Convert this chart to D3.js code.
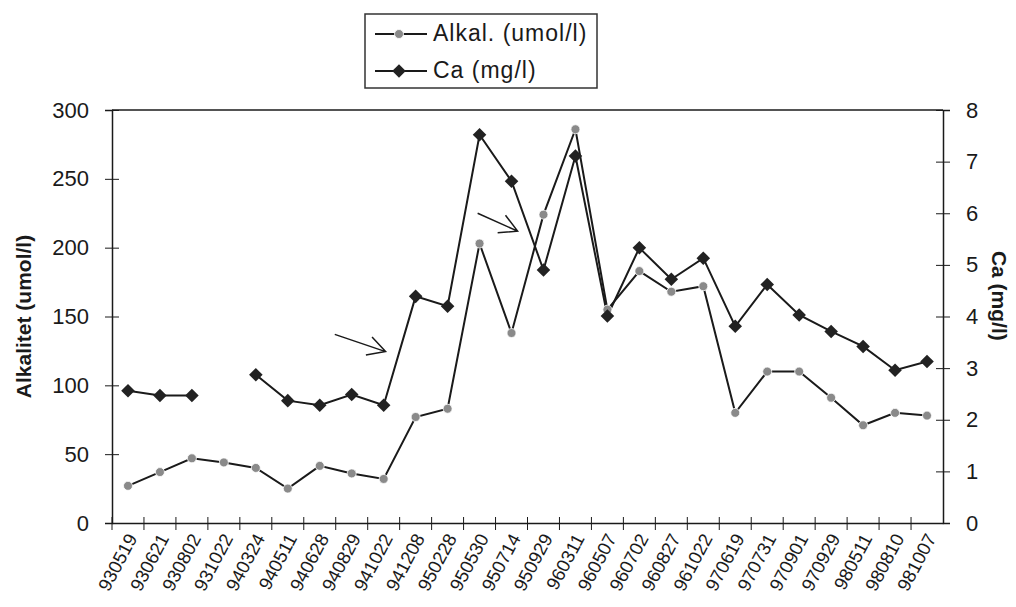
<!DOCTYPE html>
<html>
<head>
<meta charset="utf-8">
<script src="https://cdn.jsdelivr.net/npm/d3@7"></script>
<style>
  body { margin: 0; background: #fff; }
  svg { display: block; font-family: Arial, "Liberation Sans", sans-serif; }
</style>
</head>
<body>
<svg id="chart"></svg>
<script>
// sampling dates (yymmdd)
const dates = ["930519", "930621", "930802", "931022", "940324", "940511", "940628",
  "940829", "941022", "941208", "950228", "950530", "950714", "950929", "960311",
  "960507", "960702", "960827", "961022", "970619", "970731", "970901", "970929",
  "980511", "980810", "981007"];

// Alkalinity, umol/l (left axis)
const alkal = [27, 37, 47, 44, 40, 25, 41.5, 36, 32, 77, 83, 203, 138, 224, 286,
  155, 183, 168, 172, 80, 110, 110, 91, 71, 80, 78];

// Calcium, mg/l (right axis) - no sample on 931022
const ca = [2.56, 2.47, 2.47, null, 2.87, 2.37, 2.28, 2.49, 2.28, 4.39, 4.2, 7.52,
  6.62, 4.9, 7.11, 4.01, 5.33, 4.72, 5.13, 3.81, 4.62, 4.03, 3.71, 3.42, 2.96, 3.13];

const leftTicks = [0, 50, 100, 150, 200, 250, 300];
const rightTicks = [0, 1, 2, 3, 4, 5, 6, 7, 8];

// hand drawn arrows: [category index, alkal value] for tail and head
const arrows = [
  { from: [6.47, 137], to: [8.06, 124.5] },
  { from: [10.94, 225], to: [12.19, 212] }
];

const width = 1016, height = 607;
const margin = { top: 110, right: 73, bottom: 84, left: 112 };
const innerW = width - margin.left - margin.right;
const innerH = height - margin.top - margin.bottom;
const ink = "#1a1a1a";

const svg = d3.select("#chart")
  .attr("width", width)
  .attr("height", height);

const g = svg.append("g")
  .attr("transform", `translate(${margin.left},${margin.top})`);

const x = d3.scaleBand().domain(dates).range([0, innerW]);
const yL = d3.scaleLinear().domain([0, 300]).range([innerH, 0]);
const yR = d3.scaleLinear().domain([0, 8]).range([innerH, 0]);
const cx = i => x(dates[0]) + x.bandwidth() * (i + 0.5);

// plot frame (top border)
g.append("line")
  .attr("x1", 0).attr("x2", innerW)
  .attr("y1", 0).attr("y2", 0)
  .attr("stroke", ink).attr("stroke-width", 1.5);

// left axis
const axL = g.append("g")
  .call(d3.axisLeft(yL).tickValues(leftTicks).tickSize(7).tickPadding(16));
axL.selectAll("line").attr("x2", 7).attr("x1", -7);

// right axis
const axR = g.append("g")
  .attr("transform", `translate(${innerW},0)`)
  .call(d3.axisRight(yR).tickValues(rightTicks).tickSize(7).tickPadding(16));
axR.selectAll("line").attr("x1", -7).attr("x2", 7);

// bottom axis, ticks between categories
const axB = g.append("g")
  .attr("transform", `translate(0,${innerH})`)
  .call(d3.axisBottom(x).tickSize(0).tickFormat(""));
axB.selectAll(".tick").remove();
axB.selectAll(".tk")
  .data(d3.range(dates.length))
  .join("line")
  .attr("x1", i => x(dates[i])).attr("x2", i => x(dates[i]))
  .attr("y1", -6).attr("y2", 7)
  .attr("stroke", ink);

// date labels
axB.selectAll(".lbl")
  .data(dates)
  .join("text")
  .attr("class", "lbl")
  .attr("transform", (d, i) => `translate(${cx(i) + 4},${12}) rotate(-62)`)
  .attr("text-anchor", "end")
  .attr("dy", "0.35em")
  .attr("fill", ink)
  .style("font-size", "18.5px")
  .text(d => d);

[axL, axR, axB].forEach(a => {
  a.select(".domain").attr("stroke", ink).attr("stroke-width", 1.5);
  a.selectAll(".tick line").attr("stroke", ink);
  a.selectAll(".tick text").attr("fill", ink).style("font-size", "22px");
});
axR.selectAll(".tick text").attr("text-anchor", "start");

// axis titles
svg.append("text")
  .attr("transform", `translate(31,${margin.top + yL(150)}) rotate(-90)`)
  .attr("text-anchor", "middle")
  .attr("fill", ink)
  .style("font-size", "21px")
  .style("font-weight", "bold")
  .text("Alkalitet (umol/l)");

svg.append("text")
  .attr("transform", `translate(992,${margin.top + yR(4.4)}) rotate(90)`)
  .attr("text-anchor", "middle")
  .attr("fill", ink)
  .style("font-size", "21px")
  .style("font-weight", "bold")
  .text("Ca (mg/l)");

// lines
const lineAlk = d3.line()
  .x((d, i) => cx(i))
  .y(d => yL(d));

const lineCa = d3.line()
  .defined(d => d !== null)
  .x((d, i) => cx(i))
  .y(d => yR(d));

g.append("path")
  .attr("d", lineAlk(alkal))
  .attr("fill", "none")
  .attr("stroke", ink)
  .attr("stroke-width", 2);

g.append("path")
  .attr("d", lineCa(ca))
  .attr("fill", "none")
  .attr("stroke", ink)
  .attr("stroke-width", 2);

// markers - Ca diamond is a square turned 45 degrees
const diamond = d3.symbol().type(d3.symbolSquare).size(92);

g.selectAll(".alk")
  .data(alkal)
  .join("circle")
  .attr("cx", (d, i) => cx(i))
  .attr("cy", d => yL(d))
  .attr("r", 4.5)
  .attr("fill", "#8a8a8a")
  .attr("stroke", "#fff")
  .attr("stroke-width", 0.8);

g.selectAll(".ca")
  .data(ca.map((v, i) => ({ v, i })).filter(d => d.v !== null))
  .join("path")
  .attr("d", diamond)
  .attr("transform", d => `translate(${cx(d.i)},${yR(d.v)}) rotate(45)`)
  .attr("fill", "#222");

// arrows
arrows.forEach(a => {
  const x1 = cx(a.from[0]), y1 = yL(a.from[1]);
  const x2 = cx(a.to[0]), y2 = yL(a.to[1]);
  const ang = Math.atan2(y2 - y1, x2 - x1);
  const len = 20;
  const b1 = [x2 - len * Math.cos(ang - 0.5), y2 - len * Math.sin(ang - 0.5)];
  const b2 = [x2 - len * Math.cos(ang + 0.5), y2 - len * Math.sin(ang + 0.5)];
  g.append("path")
    .attr("d", `M${x1},${y1}L${x2},${y2}M${b1[0]},${b1[1]}L${x2},${y2}L${b2[0]},${b2[1]}`)
    .attr("fill", "none")
    .attr("stroke", ink)
    .attr("stroke-width", 1.5);
});

// legend
const legend = svg.append("g").attr("transform", "translate(365,14)");
legend.append("rect")
  .attr("width", 232).attr("height", 74)
  .attr("fill", "#fff")
  .attr("stroke", "#333")
  .attr("stroke-width", 1.5);

const legendRows = [
  { label: "Alkal. (umol/l)", y: 20, marker: "circle" },
  { label: "Ca (mg/l)", y: 57, marker: "diamond" }
];

legendRows.forEach(r => {
  legend.append("line")
    .attr("x1", 10).attr("x2", 62)
    .attr("y1", r.y).attr("y2", r.y)
    .attr("stroke", ink).attr("stroke-width", 2);
  if (r.marker === "circle") {
    legend.append("circle")
      .attr("cx", 34).attr("cy", r.y).attr("r", 4.5)
      .attr("fill", "#8a8a8a").attr("stroke", "#fff").attr("stroke-width", 0.8);
  } else {
    legend.append("path")
      .attr("d", diamond)
      .attr("transform", `translate(34,${r.y}) rotate(45)`)
      .attr("fill", "#222");
  }
  legend.append("text")
    .attr("x", 68).attr("y", r.y + 7)
    .attr("fill", ink)
    .style("font-size", "23px")
    .style("letter-spacing", "1px")
    .text(r.label);
});
</script>
</body>
</html>
